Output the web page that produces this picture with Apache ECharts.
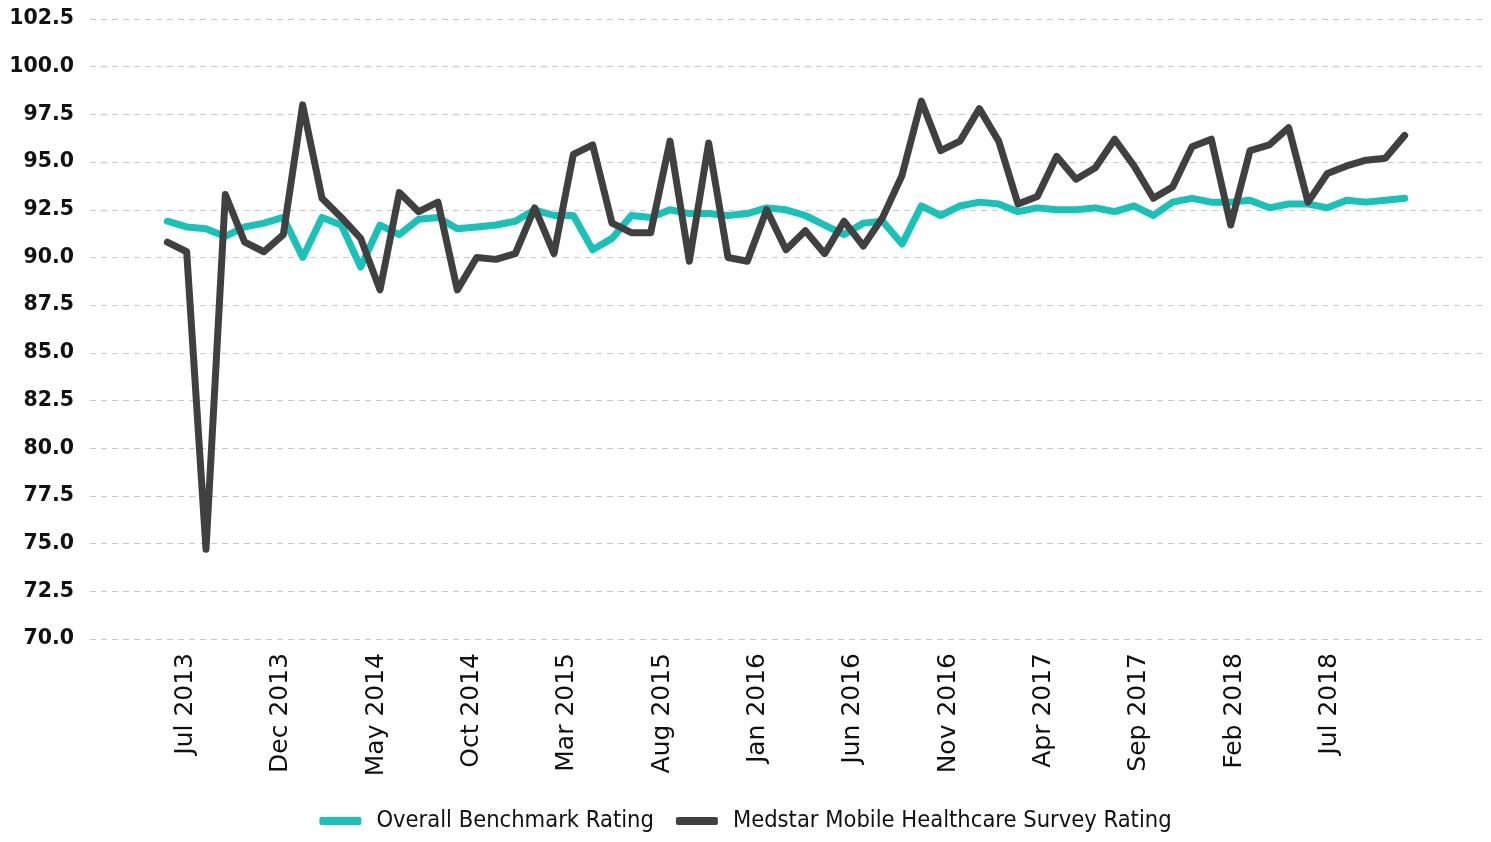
<!DOCTYPE html>
<html>
<head>
<meta charset="utf-8">
<title>Benchmark vs Medstar rating</title>
<script src="https://cdn.jsdelivr.net/npm/echarts@6/dist/echarts.min.js"></script>
<style>
  html, body { margin: 0; padding: 0; background: #fff; }
  #main { width: 1491px; height: 842px; }
</style>
</head>
<body>
<div id="main"></div>
<script>
// survey months shown on the axis (every 5th month gets a label)
var tickLabels = ['Jul 2013', 'Dec 2013', 'May 2014', 'Oct 2014', 'Mar 2015', 'Aug 2015',
    'Jan 2016', 'Jun 2016', 'Nov 2016', 'Apr 2017', 'Sep 2017', 'Feb 2018', 'Jul 2018'];

var benchmark = [
    91.9, 91.6, 91.5, 91.1, 91.6, 91.8, 92.1, 90.0, 92.1, 91.7,
    89.5, 91.7, 91.2, 92.0, 92.1, 91.5, 91.6, 91.7, 91.9, 92.5,
    92.2, 92.2, 90.4, 91.0, 92.2, 92.1, 92.5, 92.3, 92.3, 92.2,
    92.3, 92.6, 92.5, 92.2, 91.7, 91.2, 91.8, 91.9, 90.7, 92.7,
    92.2, 92.7, 92.9, 92.8, 92.4, 92.6, 92.5, 92.5, 92.6, 92.4,
    92.7, 92.2, 92.9, 93.1, 92.9, 92.9, 93.0, 92.6, 92.8, 92.8,
    92.6, 93.0, 92.9, 93.0, 93.1
];

var medstar = [
    90.8, 90.3, 74.7, 93.3, 90.8, 90.3, 91.2, 98.0, 93.1, 92.1,
    91.0, 88.3, 93.4, 92.4, 92.9, 88.3, 90.0, 89.9, 90.2, 92.6,
    90.2, 95.4, 95.9, 91.8, 91.3, 91.3, 96.1, 89.8, 96.0, 90.0,
    89.8, 92.5, 90.4, 91.4, 90.2, 91.9, 90.6, 92.1, 94.3, 98.2,
    95.6, 96.1, 97.8, 96.1, 92.8, 93.2, 95.3, 94.1, 94.7, 96.2,
    94.8, 93.1, 93.7, 95.8, 96.2, 91.7, 95.6, 95.9, 96.8, 92.9,
    94.4, 94.8, 95.1, 95.2, 96.4
];

var monthNames = ['Jan', 'Feb', 'Mar', 'Apr', 'May', 'Jun', 'Jul', 'Aug', 'Sep', 'Oct', 'Nov', 'Dec'];
function monthList(startYear, startMonth, n) {
    var out = [];
    for (var i = 0; i < n; i++) {
        var m = startMonth + i;
        out.push(monthNames[m % 12] + ' ' + (startYear + Math.floor(m / 12)));
    }
    return out;
}

// label axis: Feb 2013 .. Mar 2019
var labelAxis = monthList(2013, 1, 74);
// data axis: 4 empty slots either side of the 65 survey points
var pad = 4;
var dataAxis = monthList(2013, 1, benchmark.length + pad * 2);
function padded(arr) {
    var out = [];
    for (var i = 0; i < pad; i++) out.push(null);
    out = out.concat(arr);
    for (var j = 0; j < pad; j++) out.push(null);
    return out;
}

var dom = document.getElementById('main');
var myChart = echarts.init(dom);
var option = {
    animation: false,
    textStyle: { fontFamily: 'DejaVu Sans' },
    grid: { left: 90, right: 9, top: 19, bottom: 203, containLabel: false },
    legend: {
        bottom: 4,
        left: 'center',
        itemWidth: 42,
        itemHeight: 8,
        itemGap: 22,
        icon: 'roundRect',
        textStyle: { fontSize: 23.5, color: '#111', fontFamily: 'DejaVu Sans Condensed', padding: [0, 0, 0, 10] },
        data: ['Overall Benchmark Rating', 'Medstar Mobile Healthcare Survey Rating']
    },
    xAxis: [{
        type: 'category',
        data: dataAxis,
        boundaryGap: false,
        show: false
    }, {
        type: 'category',
        data: labelAxis,
        boundaryGap: false,
        position: 'bottom',
        axisLine: { show: false },
        axisTick: { show: false },
        axisLabel: {
            rotate: 90,
            margin: 14,
            fontSize: 25,
            color: '#111',
            interval: function (idx) {
                return idx % 5 === 0 && (idx / 5 - 1) >= 0 && (idx / 5 - 1) < tickLabels.length;
            },
            formatter: function (val, idx) {
                return tickLabels[idx / 5 - 1] || '';
            }
        }
    }],
    yAxis: {
        type: 'value',
        min: 70,
        max: 102.5,
        interval: 2.5,
        axisLine: { show: false },
        axisTick: { show: false },
        axisLabel: {
            fontSize: 20.5,
            fontWeight: 'bold',
            color: '#111',
            margin: 16,
            formatter: function (v) { return v.toFixed(1); }
        },
        splitLine: { lineStyle: { color: '#c8c8c8', type: [6, 5], width: 1 } }
    },
    series: [{
        name: 'Overall Benchmark Rating',
        type: 'line',
        xAxisIndex: 0,
        data: padded(benchmark),
        symbol: 'none',
        itemStyle: { color: '#19c1b8' },
        lineStyle: { color: '#19c1b8', width: 7, cap: 'round', join: 'round' }
    }, {
        name: 'Medstar Mobile Healthcare Survey Rating',
        type: 'line',
        xAxisIndex: 0,
        data: padded(medstar),
        symbol: 'none',
        itemStyle: { color: '#404040' },
        lineStyle: { color: '#404040', width: 7, cap: 'round', join: 'round' }
    }]
};
if (option && typeof option === "object") {
    myChart.setOption(option, true);
}
</script>
</body>
</html>
